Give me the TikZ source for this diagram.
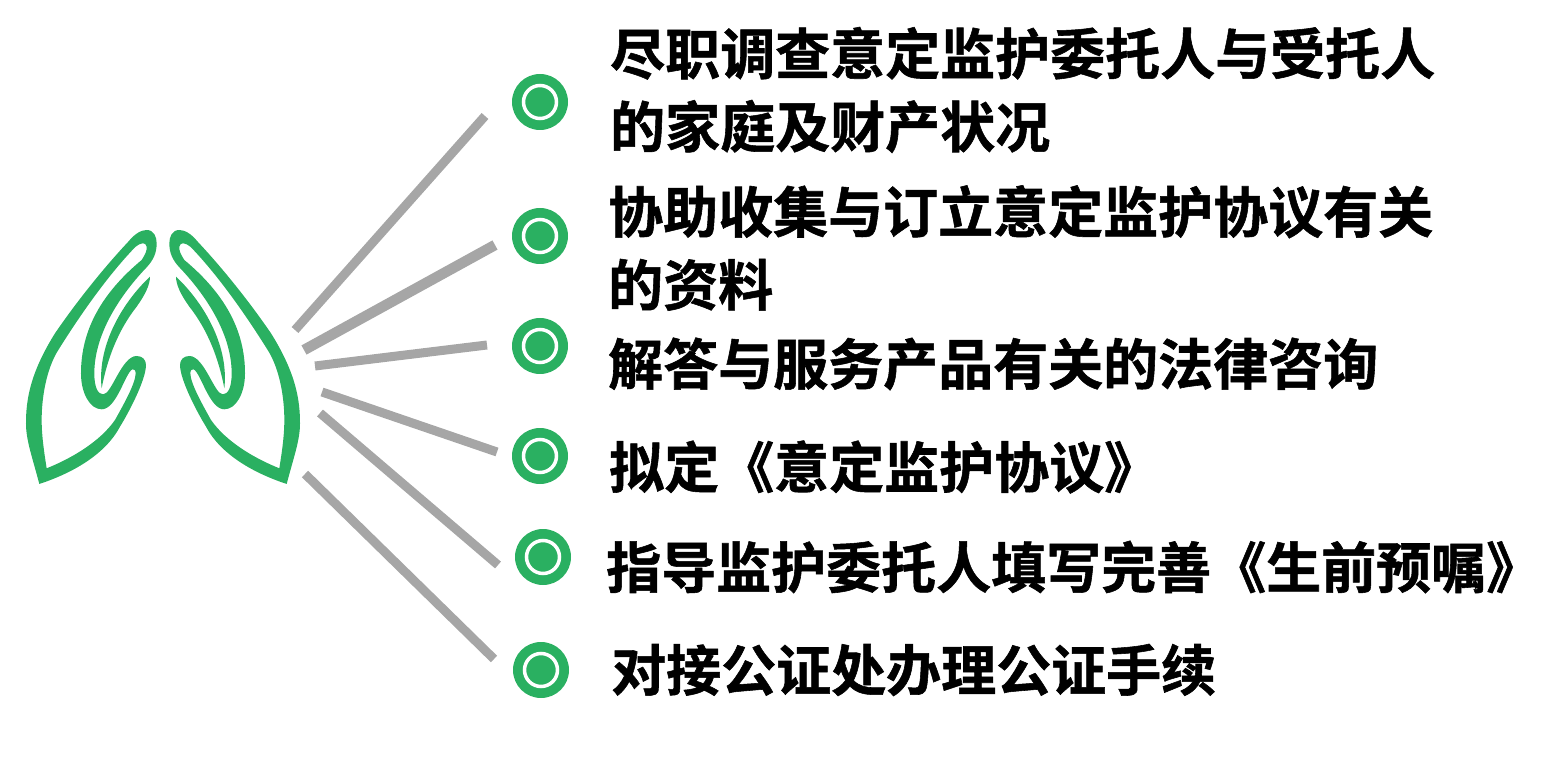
\documentclass[tikz,border=0pt]{standalone}
\usepackage{fontspec}
\newfontfamily\cjk[BoldFont={Noto Sans CJK SC Bold},BoldFeatures={FakeBold=1}]{Noto Sans CJK SC}
\definecolor{leafgreen}{HTML}{2AB061}
\definecolor{raygray}{HTML}{A6A6A6}
\tikzset{
  item/.style={anchor=west,inner sep=0pt,align=left,font=\cjk\bfseries\fontsize{55}{73}\selectfont},
  ray/.style={draw=raygray,line width=9pt},
  dotout/.style={circle,fill=leafgreen,inner sep=0pt,minimum size=56pt},
  dotin/.style={circle,draw=white,line width=3.5pt,inner sep=0pt,minimum size=33pt},
  hand/.pic={
    \begin{scope}[xscale=#1,scale=.3333]
    \fill[leafgreen,even odd rule]
      (118,822) .. controls (95,735) and (78,690) .. (78,640)
      .. controls (78,570) and (90,490) .. (165,370)
      .. controls (230,275) and (310,175) .. (385,95)
      .. controls (405,70) and (425,60) .. (440,60)
      .. controls (462,60) and (470,80) .. (470,100)
      .. controls (470,130) and (460,150) .. (440,172)
      .. controls (370,245) and (283,365) .. (283,490)
      .. controls (283,535) and (295,553) .. (310,553)
      .. controls (335,553) and (365,438) .. (410,438)
      .. controls (428,438) and (438,450) .. (438,465)
      .. controls (438,510) and (385,610) .. (360,650)
      .. controls (315,735) and (215,790) .. (118,822) -- cycle
      (140,775) .. controls (215,745) and (300,695) .. (345,630)
      .. controls (370,585) and (407,520) .. (407,490)
      .. controls (407,480) and (402,477) .. (397,478)
      .. controls (375,490) and (350,598) .. (305,598)
      .. controls (270,598) and (243,550) .. (243,490)
      .. controls (243,360) and (305,250) .. (425,150)
      .. controls (435,135) and (442,120) .. (440,110)
      .. controls (437,97) and (425,95) .. (405,112)
      .. controls (330,190) and (250,300) .. (175,420)
      .. controls (140,475) and (125,560) .. (125,630)
      .. controls (125,680) and (133,730) .. (140,775) -- cycle;
    \fill[leafgreen]
      (450,200) .. controls (375,270) and (290,400) .. (305,535)
      .. controls (322,445) and (355,360) .. (410,290)
      .. controls (435,255) and (450,225) .. (450,200) -- cycle;
    \end{scope}
  },
}
\begin{document}
\begin{tikzpicture}[x=1pt,y=-1pt]
  \useasboundingbox (0,0) rectangle (1550,783);

  % hands
  \pic at (0,210) {hand=1};
  \pic at (326,210) {hand=-1};

  % bullets
  \node[dotout] (b1) at (540,102) {};
  \node[dotout] (b2) at (540,236) {};
  \node[dotout] (b3) at (540,346) {};
  \node[dotout] (b4) at (540,456) {};
  \node[dotout] (b5) at (543,557) {};
  \node[dotout] (b6) at (541,670) {};
  \foreach \i in {1,...,6}
    \node[dotin] at (b\i) {};

  % texts
  \node[item] (t1) at (610,90) {尽职调查意定监护委托人与受托人\\的家庭及财产状况};
  \node[item] (t2) at (608,248) {协助收集与订立意定监护协议有关\\的资料};
  \node[item] (t3) at (608,364) {解答与服务产品有关的法律咨询};
  \node[item] (t4) at (609,467) {拟定《意定监护协议》};
  \node[item] (t5) at (606,567) {指导监护委托人填写完善《生前预嘱》};
  \node[item] (t6) at (611,670) {对接公证处办理公证手续};

  % rays
  \coordinate (r1a) at (295,330);
  \coordinate (r1b) at (485,116);
  \coordinate (r2a) at (304,350);
  \coordinate (r2b) at (495,245);
  \coordinate (r3a) at (315,366);
  \coordinate (r3b) at (487,345);
  \coordinate (r4a) at (322,392);
  \coordinate (r4b) at (497,452);
  \coordinate (r5a) at (320,413);
  \coordinate (r5b) at (498,565);
  \coordinate (r6a) at (305,474);
  \coordinate (r6b) at (494,659);
  \draw[ray] (r1a) -- (r1b);
  \draw[ray,line width=10.5pt] (r2a) -- (r2b);
  \draw[ray] (r3a) -- (r3b);
  \draw[ray] (r4a) -- (r4b);
  \draw[ray] (r5a) -- (r5b);
  \draw[ray] (r6a) -- (r6b);
\end{tikzpicture}
\end{document}
